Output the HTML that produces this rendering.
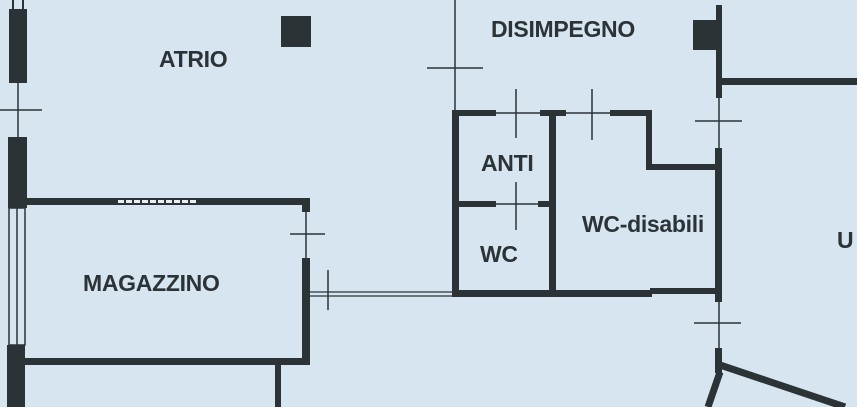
<!DOCTYPE html>
<html><head><style>
html,body{margin:0;padding:0;background:#d7e5f1;}
svg{display:block}
text{font-family:"Liberation Sans",Arial,sans-serif;font-weight:bold;fill:#2b3336;letter-spacing:-0.3px}
</style></head><body>
<svg width="857" height="407" viewBox="0 0 857 407" xmlns="http://www.w3.org/2000/svg">
<rect width="857" height="407" fill="#d7e5f1"/>
<g fill="#2b3336">
<rect x="9" y="9" width="18" height="74"/>
<rect x="8" y="137" width="19" height="71"/>
<rect x="7" y="345" width="18" height="62"/>
<rect x="281" y="16" width="30" height="31"/>
<rect x="27" y="198" width="283" height="7"/>
<rect x="302" y="198" width="8" height="14"/>
<rect x="302" y="258" width="8" height="107"/>
<rect x="25" y="358" width="285" height="7"/>
<rect x="275" y="365" width="6" height="42"/>
<rect x="452" y="110" width="7" height="187"/>
<rect x="452" y="110" width="44" height="6"/>
<rect x="540" y="110" width="26" height="6"/>
<rect x="549" y="110" width="7" height="187"/>
<rect x="610" y="110" width="42" height="6"/>
<rect x="646" y="110" width="6" height="60"/>
<rect x="646" y="164" width="74" height="6"/>
<rect x="459" y="201" width="37" height="6"/>
<rect x="538" y="201" width="14" height="6"/>
<rect x="452" y="290" width="200" height="7"/>
<rect x="650" y="288" width="70" height="6"/>
<rect x="716" y="5" width="6" height="93"/>
<rect x="693" y="20" width="29" height="30"/>
<rect x="722" y="78" width="135" height="7"/>
<rect x="715" y="148" width="7" height="154"/>
<rect x="715" y="348" width="7" height="25"/>
</g>
<g stroke="#2b3336" fill="none">
<path d="M720 365 L845 407" stroke-width="7"/>
<path d="M720 372 L708 407" stroke-width="7"/>
<path d="M13 0 V10 M23 0 V10" stroke-width="2"/>
<path d="M18 83 V137" stroke-width="1.5"/>
<path d="M0 110 H42" stroke-width="1.5"/>
<rect x="9" y="208" width="16" height="137" stroke-width="1.5"/>
<path d="M17 208 V345" stroke-width="1.5"/>
<path d="M306 212 V258" stroke-width="1.5"/>
<path d="M290 234 H325" stroke-width="1.5"/>
<path d="M310 292 H452 M310 296 H452" stroke-width="1.2"/>
<path d="M328 270 V310" stroke-width="1.5"/>
<path d="M455 0 V110" stroke-width="1.5"/>
<path d="M427 68 H483" stroke-width="1.5"/>
<path d="M496 113 H540 M566 113 H610" stroke-width="1.5"/>
<path d="M516 89 V138 M592 89 V140" stroke-width="1.5"/>
<path d="M496 204 H538" stroke-width="1.5"/>
<path d="M516 182 V230" stroke-width="1.5"/>
<path d="M719 98 V148 M719 302 V348" stroke-width="1.5"/>
<path d="M695 121 H742 M694 323 H741" stroke-width="1.5"/>
</g>
<g fill="#e8eef3">
<rect x="118" y="200" width="6" height="3"/><rect x="126" y="200" width="6" height="3"/><rect x="134" y="200" width="6" height="3"/><rect x="142" y="200" width="6" height="3"/><rect x="150" y="200" width="6" height="3"/><rect x="158" y="200" width="6" height="3"/><rect x="166" y="200" width="6" height="3"/><rect x="174" y="200" width="6" height="3"/><rect x="182" y="200" width="6" height="3"/><rect x="190" y="200" width="6" height="3"/>
</g>
<text x="159" y="67" font-size="23">ATRIO</text>
<text x="491" y="37" font-size="23">DISIMPEGNO</text>
<text x="481" y="171" font-size="23">ANTI</text>
<text x="480" y="262" font-size="23">WC</text>
<text x="582" y="232" font-size="23">WC-disabili</text>
<text x="83" y="291" font-size="23">MAGAZZINO</text>
<text x="837" y="248" font-size="23">U</text>
</svg>
</body></html>
